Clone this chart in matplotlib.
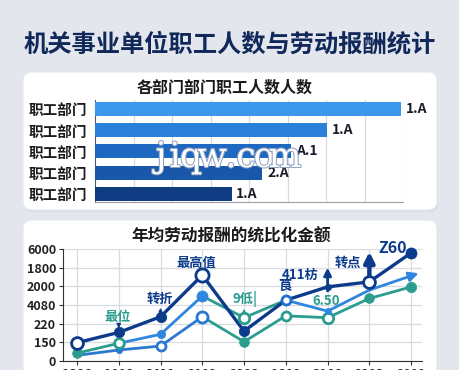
import matplotlib
matplotlib.use('Agg')
import matplotlib.pyplot as plt
from matplotlib.patches import FancyBboxPatch
import matplotlib.patheffects as pe

plt.rcParams['font.family'] = ['Noto Sans CJK SC', 'DejaVu Sans']

# ---------------- data ----------------
bar_labels = ['职工部门', '职工部门', '职工部门', '职工部门', '职工部门']
bar_values = [7.95, 6.03, 5.10, 4.35, 3.55]
bar_texts = ['1.A', '1.A', 'A.1', '2.A', '1.A']

x_labels = ['1386', '1008', '3421', '2109', '2208', '1819', '3166', '2203', '2000']
y_tick_labels = ['0', '150', '220', '4080', '2000', '1800', '6000']
s_navy = [0.98, 1.53, 2.37, 4.60, 1.60, 3.26, 3.97, 4.24, 5.79]
s_blue = [0.42, 0.95, 1.43, 3.48, 2.32, 3.26, 2.67, 3.80, 4.60]
s_low = [0.30, 0.59, 0.80, 2.37, 1.03, 2.42, 2.32, 3.35, 3.97]

NAVY = '#0d3b8c'
BLUE = '#2f86de'
LBLUE = '#2a78d0'
TEAL = '#2a9d8f'

W, H = 460, 370
fig = plt.figure(figsize=(W / 100, H / 100), dpi=100)
fig.patch.set_facecolor('#e3e7ed')

# background axes in pixel coords
bg = fig.add_axes([0, 0, 1, 1], zorder=-5)
bg.set_xlim(0, W)
bg.set_ylim(H, 0)
bg.axis('off')
for (x0, y0, x1, y1) in [(23, 72, 437, 210), (23, 220, 437, 400)]:
    sh = FancyBboxPatch((x0 + 1, y0 + 2), x1 - x0, y1 - y0,
                        boxstyle='round,pad=0,rounding_size=9',
                        fc='#cfd4dc', ec='none', alpha=0.6)
    bg.add_patch(sh)
    p = FancyBboxPatch((x0, y0), x1 - x0, y1 - y0,
                       boxstyle='round,pad=0,rounding_size=9',
                       fc='white', ec='#e6e9ee', lw=0.8)
    bg.add_patch(p)

bg.text(230, 44, '机关事业单位职工人数与劳动报酬统计', ha='center', va='center',
        fontsize=17.5, fontweight='bold', color='#10285a')
bg.text(225, 88, '各部门部门职工人数人数', ha='center', va='center',
        fontsize=11.5, fontweight='bold', color='#1b1b1b')
bg.text(231, 237, '年均劳动报酬的统比化金额', ha='center', va='center',
        fontsize=12, fontweight='bold', color='#1b1b1b')

# ---------------- bar chart ----------------
axb = fig.add_axes([95 / W, 1 - 202 / H, 308 / W, 102 / H])
bar_colors = ['#3b97ea', '#2b80d9', '#1f68c2', '#1957aa', '#0e3b82']
ypos = list(range(len(bar_values)))
axb.barh(ypos, bar_values, height=0.66, color=bar_colors, zorder=3)
axb.set_xlim(0, 8)
axb.set_ylim(4.38, -0.42)
axb.set_xticks(range(1, 9))
axb.set_xticklabels([])
axb.tick_params(axis='x', length=0)
axb.tick_params(axis='y', length=0, pad=6)
axb.set_yticks(ypos)
axb.set_yticklabels(bar_labels, fontsize=10.5, fontweight='bold', color='#1b1b1b')
axb.grid(axis='x', color='#d6d9df', lw=0.9, zorder=0)
for s in ['top', 'right']:
    axb.spines[s].set_visible(False)
axb.spines['left'].set_color('#555b66')
axb.spines['bottom'].set_color('#9aa0aa')
for y, v, t in zip(ypos, bar_values, bar_texts):
    axb.text(v + 0.12, y, t, ha='left', va='center', fontsize=10,
             fontweight='bold', color='#1b1b2a', zorder=4)

# watermark (drawn on top of everything), letters spread out
wm = 'jiqw.com'
wm_x = [161, 175, 191, 212, 231, 246, 264, 285]
for ch, px in zip(wm, wm_x):
    fig.text(px / W, 1 - 157 / H, ch, ha='center', va='center', fontsize=25,
             family='DejaVu Serif', color='white', zorder=50,
             path_effects=[pe.withStroke(linewidth=1.5, foreground='#8fa3c0')])

# ---------------- line chart ----------------
axl = fig.add_axes([63 / W, 1 - 361 / H, 359 / W, 112 / H])
xs = list(range(len(x_labels)))
axl.set_xlim(-0.335, 8.26)
axl.set_ylim(0, 6)
axl.set_xticks(xs)
axl.set_xticklabels(x_labels, fontsize=9, fontweight='bold', color='#222')
axl.set_yticks(range(len(y_tick_labels)))
axl.set_yticklabels(y_tick_labels, fontsize=9, fontweight='bold', color='#222')
axl.tick_params(axis='both', length=3, color='#333', pad=2)
axl.grid(True, color='#d8dbe1', lw=0.9, zorder=0)
for s in ['top', 'right']:
    axl.spines[s].set_visible(False)
axl.spines['left'].set_color('#333')
axl.spines['bottom'].set_color('#333')
axl.set_facecolor('none')

# segment colours (style)
blue_seg = [TEAL, BLUE, BLUE, TEAL, TEAL, BLUE, BLUE, BLUE]
low_seg = [LBLUE, LBLUE, LBLUE, TEAL, TEAL, TEAL, TEAL, TEAL]

for i in range(len(xs) - 1):
    axl.plot(xs[i:i + 2], s_low[i:i + 2], color=low_seg[i], lw=2.0,
             zorder=3, solid_capstyle='round')
for i in range(len(xs) - 2):
    axl.plot(xs[i:i + 2], s_blue[i:i + 2], color=blue_seg[i], lw=2.0,
             zorder=4, solid_capstyle='round')
axl.annotate('', xy=(xs[8] + 0.18, s_blue[8] + 0.1), xytext=(xs[7], s_blue[7]),
             arrowprops=dict(arrowstyle='-|>', color=BLUE, lw=2.0,
                             mutation_scale=14, shrinkA=0, shrinkB=0),
             zorder=4, annotation_clip=False)
axl.plot(xs, s_navy, color=NAVY, lw=2.4, zorder=5, solid_capstyle='round')

# markers: (style) 'o' open, 'f' filled, size, colour
navy_mk = [('o', 8.5, NAVY), ('f', 7.5, NAVY), ('f', 7.5, NAVY), ('o', 9.5, NAVY),
           ('f', 7.5, NAVY), ('o', 6.5, '#1f6fcf'), ('f', 4.5, NAVY), ('o', 8.5, NAVY),
           ('f', 8, NAVY)]
blue_mk = [('f', 7, TEAL), ('o', 7, TEAL), ('f', 6, BLUE), ('f', 8, BLUE),
           ('o', 7.5, TEAL), (None, 0, None), ('f', 4.5, BLUE), (None, 0, None),
           (None, 0, None)]
low_mk = [(None, 0, None), ('f', 4.5, LBLUE), ('o', 6.5, LBLUE), ('o', 8, LBLUE),
          ('f', 7, TEAL), ('o', 6.5, TEAL), ('o', 7.5, TEAL), ('f', 7, TEAL),
          ('f', 7.5, TEAL)]


def draw_markers(vals, specs, z):
    for x, v, (kind, ms, c) in zip(xs, vals, specs):
        if kind is None:
            continue
        if kind == 'o':
            axl.plot([x], [v], marker='o', ms=ms, mfc='white', mec=c, mew=2.0,
                     zorder=z, clip_on=False)
        else:
            axl.plot([x], [v], marker='o', ms=ms, mfc=c, mec=c, mew=0.5,
                     zorder=z, clip_on=False)


draw_markers(s_low, low_mk, 6)
draw_markers(s_blue, blue_mk, 7)
draw_markers(s_navy, navy_mk, 8)

# annotations
ann = dict(ha='center', va='center', fontweight='bold', zorder=9)
axl.text(0.98, 2.35, '最位', fontsize=9.5, color=TEAL, **ann)
axl.annotate('', xy=(1, 1.75), xytext=(1, 2.0),
             arrowprops=dict(arrowstyle='-|>', color=NAVY, lw=1.0, mutation_scale=6,
                             shrinkA=0, shrinkB=0), zorder=9)
axl.text(1.98, 3.32, '转折', fontsize=9.5, color=NAVY, **ann)
axl.annotate('', xy=(2, 2.85), xytext=(2, 2.6),
             arrowprops=dict(arrowstyle='-|>', color=NAVY, lw=1.0, mutation_scale=5,
                             shrinkA=0, shrinkB=0), zorder=9)
axl.text(2.85, 5.25, '最高值', fontsize=9.5, color=NAVY, **ann)
axl.text(4.03, 3.3, '9低|', fontsize=9.5, color=TEAL, **ann)
axl.annotate('', xy=(4, 2.8), xytext=(4, 2.55),
             arrowprops=dict(arrowstyle='-|>', color=TEAL, lw=1.0, mutation_scale=5,
                             shrinkA=0, shrinkB=0), zorder=9)
axl.text(4.98, 4.05, '莨', fontsize=9.5, color=NAVY, **ann)
axl.text(5.34, 4.6, '411枋', fontsize=9.5, color=NAVY, **ann)
axl.annotate('', xy=(6, 5.0), xytext=(6, 3.75),
             arrowprops=dict(arrowstyle='-|>', color=NAVY, lw=2.0, mutation_scale=11,
                             shrinkA=0, shrinkB=0), zorder=9, annotation_clip=False)
axl.text(5.96, 3.2, '6.50', fontsize=9.5, color=TEAL, **ann)
axl.text(6.49, 5.25, '转点', fontsize=9.5, color=NAVY, **ann)
axl.annotate('', xy=(7, 5.85), xytext=(7, 4.55),
             arrowprops=dict(arrowstyle='-|>', color=NAVY, lw=3.2, mutation_scale=15,
                             shrinkA=0, shrinkB=0), zorder=9, annotation_clip=False)
axl.text(7.57, 6.05, 'Z60', fontsize=11.5, color=NAVY, **ann)

fig.savefig('out.png', dpi=100, facecolor=fig.get_facecolor())
